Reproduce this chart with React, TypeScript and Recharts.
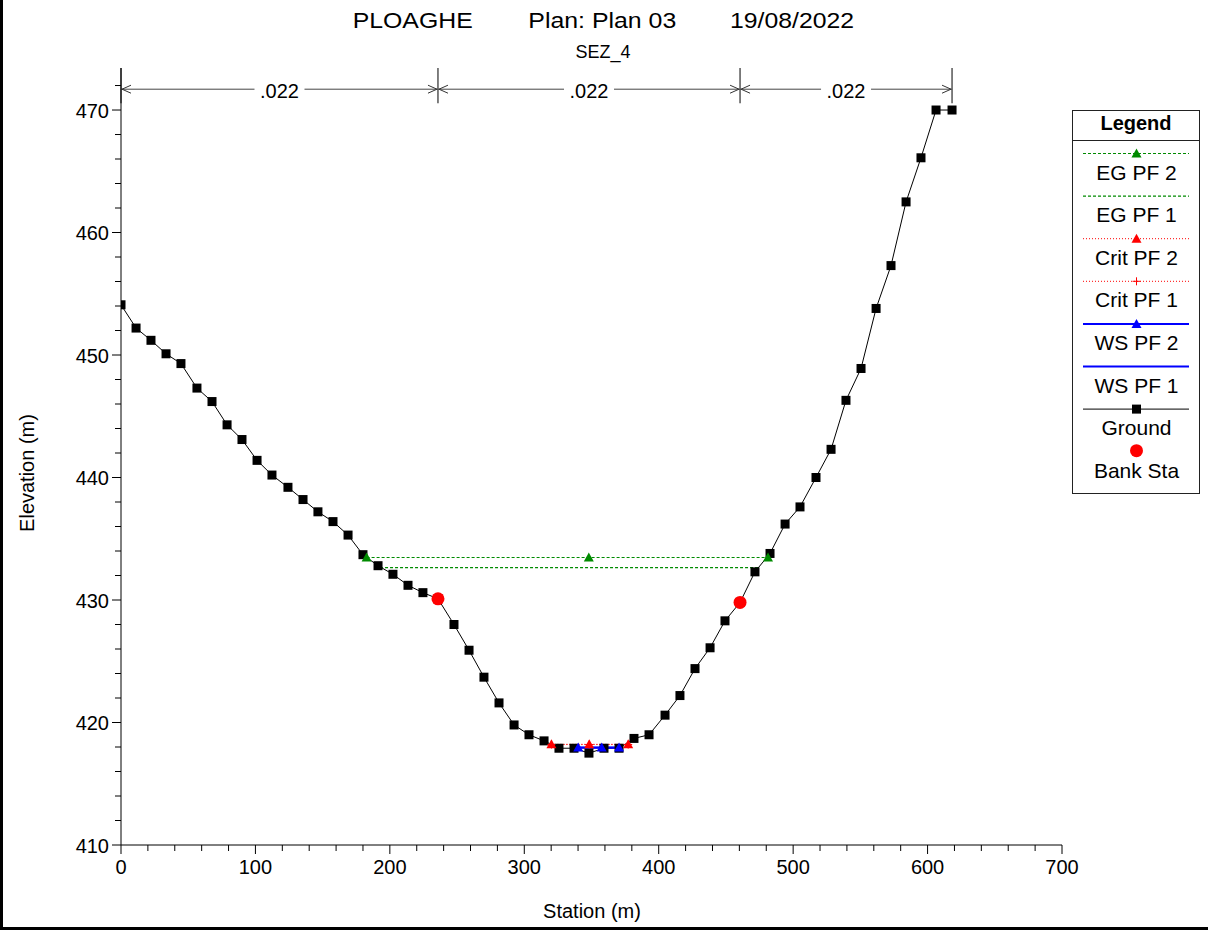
import React from "react";
import {
  ComposedChart,
  Line,
  XAxis,
  YAxis,
  ReferenceLine,
  ReferenceDot,
} from "recharts";

// cross section SEZ_4 - stations (m) and elevations (m)
const groundStation = [
  0, 11.2, 22.3, 33.5, 44.6, 56.5, 67.7, 78.9, 90.0, 101.2, 112.3, 124.2,
  135.4, 146.5, 157.7, 168.9, 180.0, 191.2, 202.3, 213.5, 224.6, 235.8, 247.7,
  258.9, 270.0, 281.2, 292.4, 303.5, 314.7, 325.8, 337.0, 348.1, 359.3, 370.5,
  381.6, 392.8, 404.7, 415.8, 427.0, 438.2, 449.3, 460.5, 471.6, 482.8, 494.0,
  505.1, 517.0, 528.2, 539.3, 550.5, 561.7, 572.8, 584.0, 595.1, 606.3, 618.2,
];
const groundElev = [
  454.1, 452.2, 451.2, 450.1, 449.3, 447.3, 446.2, 444.3, 443.1, 441.4, 440.2,
  439.2, 438.2, 437.2, 436.4, 435.3, 433.7, 432.8, 432.1, 431.2, 430.6, 430.1,
  428.0, 425.9, 423.7, 421.6, 419.8, 419.0, 418.5, 417.9, 417.9, 417.5, 417.9,
  417.9, 418.7, 419.0, 420.6, 422.2, 424.4, 426.1, 428.3, 429.8, 432.3, 433.8,
  436.2, 437.6, 440.0, 442.3, 446.3, 448.9, 453.8, 457.3, 462.5, 466.1, 470.0,
  470.0,
];

const bankStation = [235.8, 460.5];
const bankElev = [430.1, 429.8];

const egPf2Station = [182.7, 348.0, 481.3];
const egPf2Elev = [433.47, 433.47, 433.47];
const egPf1Station = [192.7, 474.2];
const egPf1Elev = [432.65, 432.65];

const critPf2Station = [320.2, 348.3, 377.3];
const critPf2Elev = [418.22, 418.22, 418.22];
const critPf1Station = [320.2, 348.3, 377.3];
const critPf1Elev = [418.2, 418.2, 418.2];

const wsPf2Station = [340.1, 357.6, 370.5];
const wsPf2Elev = [417.96, 417.96, 417.96];
const wsPf1Station = [339.5, 371.0];
const wsPf1Elev = [417.94, 417.94];

// manning's n zones
const nStations = [0, 235.8, 460.5, 618.2];
const nValues = [".022", ".022", ".022"];

const xTicks = Array.from({ length: 36 }, (_, i) => i * 20);
const yTicks = Array.from({ length: 32 }, (_, i) => 410 + i * 2);

const FONT = "'Liberation Sans', Arial, sans-serif";
const GREEN = "#008a00";
const Y_TOP = 473.43;
const N_ARROW_Y = 471.7;
const N_LINE_BOTTOM = 470.55;

const toPoints = (xs: number[], ys: number[]) =>
  xs.map((x, i) => ({ x, y: ys[i] }));

const square = (p: any) =>
  p.cx == null ? (
    <g key={`sq-${p.index}`} />
  ) : (
    <rect
      key={`sq-${p.index}`}
      x={p.cx - 4.5}
      y={p.cy - 4.5}
      width={9}
      height={9}
      fill="#000"
    />
  );

const circle = (p: any) => (
  <circle key={`ci-${p.index}`} cx={p.cx} cy={p.cy} r={6.5} fill="#ff0000" />
);

const triangle = (color: string) => (p: any) =>
  (
    <path
      key={`tr-${color}-${p.index}`}
      d={`M${p.cx},${p.cy - 5} L${p.cx + 5},${p.cy + 4} L${p.cx - 5},${p.cy + 4} Z`}
      fill={color}
    />
  );

const plus = (p: any) => (
  <path
    key={`pl-${p.index}`}
    d={`M${p.cx - 4},${p.cy} H${p.cx + 4} M${p.cx},${p.cy - 4} V${p.cy + 4}`}
    stroke="#ff0000"
    strokeWidth={1}
  />
);

const XTick = (props: any) => {
  const { x, y, payload } = props;
  const v = payload.value;
  const major = v % 100 === 0;
  return (
    <g>
      <line x1={x} x2={x} y1={y} y2={y + (major ? 9 : 6)} stroke="#000" />
      {major && (
        <text
          x={x}
          y={y + 29}
          textAnchor="middle"
          fontSize={20}
          fontFamily={FONT}
          fill="#000"
        >
          {v}
        </text>
      )}
    </g>
  );
};

const YTick = (props: any) => {
  const { x, y, payload } = props;
  const v = payload.value;
  const major = v % 10 === 0;
  return (
    <g>
      <line x1={x - (major ? 9 : 6)} x2={x} y1={y} y2={y} stroke="#000" />
      {major && (
        <text
          x={x - 12}
          y={y + 7.5}
          textAnchor="end"
          fontSize={20}
          fontFamily={FONT}
          fill="#000"
        >
          {v}
        </text>
      )}
    </g>
  );
};

const legendItems = [
  { name: "EG PF 2", color: GREEN, dash: "3 2", marker: "triangle", w: 1.2 },
  { name: "EG PF 1", color: GREEN, dash: "3 2", marker: "none", w: 1.2 },
  { name: "Crit PF 2", color: "#ff0000", dash: "1 2", marker: "triangle", w: 1 },
  { name: "Crit PF 1", color: "#ff0000", dash: "1 2", marker: "plus", w: 1 },
  { name: "WS PF 2", color: "#0000ff", dash: undefined, marker: "triangle", w: 2 },
  { name: "WS PF 1", color: "#0000ff", dash: undefined, marker: "none", w: 2 },
  { name: "Ground", color: "#000", dash: undefined, marker: "square", w: 1 },
  { name: "Bank Sta", color: "#ff0000", dash: undefined, marker: "circle", w: 0 },
];

const Legend = () => (
  <g transform="translate(1072,110)">
    <rect x={0.5} y={0.5} width={127} height={383} fill="#fff" stroke="#222" />
    <text
      x={64}
      y={20}
      textAnchor="middle"
      fontSize={20}
      fontWeight="bold"
      fontFamily={FONT}
    >
      Legend
    </text>
    <line x1={0} x2={128} y1={30.5} y2={30.5} stroke="#222" />
    {legendItems.map((it, i) => {
      const ly = 43.5 + i * 42.6;
      const mx = 64.5;
      return (
        <g key={it.name}>
          {it.w > 0 && (
            <line
              x1={11}
              x2={117}
              y1={ly}
              y2={ly}
              stroke={it.color}
              strokeWidth={it.w}
              strokeDasharray={it.dash}
            />
          )}
          {it.marker === "triangle" && (
            <path
              d={`M${mx},${ly - 5} L${mx + 5},${ly + 4} L${mx - 5},${ly + 4} Z`}
              fill={it.color}
            />
          )}
          {it.marker === "plus" && (
            <path
              d={`M${mx - 4},${ly} H${mx + 4} M${mx},${ly - 4} V${ly + 4}`}
              stroke={it.color}
            />
          )}
          {it.marker === "square" && (
            <rect x={mx - 4.5} y={ly - 4.5} width={9} height={9} fill="#000" />
          )}
          {it.marker === "circle" && (
            <circle cx={mx} cy={ly - 1} r={6.5} fill="#ff0000" />
          )}
          <text
            x={mx}
            y={ly + 26}
            textAnchor="middle"
            fontSize={21}
            fontFamily={FONT}
          >
            {it.name}
          </text>
        </g>
      );
    })}
  </g>
);

const App: React.FC = () => {
  const ground = toPoints(groundStation, groundElev);
  const bank = toPoints(bankStation, bankElev);
  const egPf2 = toPoints(egPf2Station, egPf2Elev);
  const egPf1 = toPoints(egPf1Station, egPf1Elev);
  const critPf2 = toPoints(critPf2Station, critPf2Elev);
  const critPf1 = toPoints(critPf1Station, critPf1Elev);
  const wsPf2 = toPoints(wsPf2Station, wsPf2Elev);
  const wsPf1 = toPoints(wsPf1Station, wsPf1Elev);

  return (
    <div
      style={{
        position: "absolute",
        left: 0,
        top: 0,
        width: 1208,
        height: 930,
        background: "#fff",
        fontFamily: FONT,
      }}
    >
      <ComposedChart
        width={1208}
        height={930}
        margin={{ top: 68, right: 146, bottom: 55, left: 61 }}
      >
        <XAxis
          type="number"
          dataKey="x"
          domain={[0, 700]}
          ticks={xTicks}
          interval={0}
          tickLine={false}
          tickSize={0}
          tickMargin={0}
          tick={<XTick />}
          axisLine={{ stroke: "#000" }}
          height={30}
          allowDataOverflow
        />
        <YAxis
          type="number"
          dataKey="y"
          domain={[410, Y_TOP]}
          ticks={yTicks}
          interval={0}
          tickLine={false}
          tickSize={0}
          tickMargin={0}
          tick={<YTick />}
          axisLine={{ stroke: "#000" }}
          width={60}
          allowDataOverflow
        />

        {/* manning's n brackets */}
        {nStations.map((s) => (
          <ReferenceLine
            key={`nv-${s}`}
            segment={[
              { x: s, y: N_LINE_BOTTOM },
              { x: s, y: Y_TOP },
            ]}
            stroke="#000"
            ifOverflow="visible"
          />
        ))}
        {nValues.map((v, i) => (
          <ReferenceLine
            key={`nh-${i}`}
            segment={[
              { x: nStations[i], y: N_ARROW_Y },
              { x: nStations[i + 1], y: N_ARROW_Y },
            ]}
            stroke="#444"
            ifOverflow="visible"
          />
        ))}
        {nValues.map((v, i) => (
          <ReferenceDot
            key={`nl-${i}`}
            x={nStations[i]}
            y={N_ARROW_Y}
            ifOverflow="visible"
            shape={(p: any) => (
              <path
                d={`M${p.cx + 10},${p.cy - 4} L${p.cx + 1},${p.cy} L${p.cx + 10},${p.cy + 4}`}
                stroke="#333"
                fill="none"
              />
            )}
          />
        ))}
        {nValues.map((v, i) => (
          <ReferenceDot
            key={`nr-${i}`}
            x={nStations[i + 1]}
            y={N_ARROW_Y}
            ifOverflow="visible"
            shape={(p: any) => (
              <path
                d={`M${p.cx - 10},${p.cy - 4} L${p.cx - 1},${p.cy} L${p.cx - 10},${p.cy + 4}`}
                stroke="#333"
                fill="none"
              />
            )}
          />
        ))}
        {nValues.map((v, i) => (
          <ReferenceDot
            key={`nt-${i}`}
            x={(nStations[i] + nStations[i + 1]) / 2}
            y={N_ARROW_Y}
            ifOverflow="visible"
            shape={(p: any) => (
              <g>
                <rect
                  x={p.cx - 25}
                  y={p.cy - 3}
                  width={50}
                  height={6}
                  fill="#fff"
                />
                <text
                  x={p.cx}
                  y={p.cy + 9}
                  textAnchor="middle"
                  fontSize={20}
                  fontFamily={FONT}
                  fill="#000"
                >
                  {v}
                </text>
              </g>
            )}
          />
        ))}

        <Line
          data={ground}
          dataKey="y"
          stroke="#000"
          strokeWidth={1}
          dot={square}
          isAnimationActive={false}
        />
        <Line
          data={bank}
          dataKey="y"
          stroke="none"
          dot={circle}
          isAnimationActive={false}
        />
        <Line
          data={egPf2}
          dataKey="y"
          stroke={GREEN}
          strokeWidth={1.2}
          strokeDasharray="3 2"
          dot={triangle(GREEN)}
          isAnimationActive={false}
        />
        <Line
          data={egPf1}
          dataKey="y"
          stroke={GREEN}
          strokeWidth={1.2}
          strokeDasharray="3 2"
          dot={false}
          isAnimationActive={false}
        />
        <Line
          data={critPf1}
          dataKey="y"
          stroke="#ff0000"
          strokeDasharray="1 2"
          dot={plus}
          isAnimationActive={false}
        />
        <Line
          data={critPf2}
          dataKey="y"
          stroke="#ff0000"
          strokeDasharray="1 2"
          dot={triangle("#ff0000")}
          isAnimationActive={false}
        />
        <Line
          data={wsPf1}
          dataKey="y"
          stroke="#0000ff"
          strokeWidth={2}
          dot={false}
          isAnimationActive={false}
        />
        <Line
          data={wsPf2}
          dataKey="y"
          stroke="#0000ff"
          strokeWidth={2}
          dot={triangle("#0000ff")}
          isAnimationActive={false}
        />
      </ComposedChart>

      <svg
        width={1208}
        height={930}
        style={{ position: "absolute", left: 0, top: 0, pointerEvents: "none" }}
      >
        <text x={352.7} y={28} fontSize={22} fontFamily={FONT} textLength={120} lengthAdjust="spacingAndGlyphs">
          PLOAGHE
        </text>
        <text x={528.3} y={28} fontSize={22} fontFamily={FONT} textLength={148} lengthAdjust="spacingAndGlyphs">
          Plan: Plan 03
        </text>
        <text x={730} y={28} fontSize={22} fontFamily={FONT} textLength={124} lengthAdjust="spacingAndGlyphs">
          19/08/2022
        </text>
        <text x={603} y={58} textAnchor="middle" fontSize={18} fontFamily={FONT}>
          SEZ_4
        </text>
        <text
          x={592}
          y={918}
          textAnchor="middle"
          fontSize={20}
          fontFamily={FONT}
        >
          Station (m)
        </text>
        <text
          transform="translate(34,473) rotate(-90)"
          textAnchor="middle"
          fontSize={20}
          fontFamily={FONT}
        >
          Elevation (m)
        </text>
        <Legend />
        <line x1={1.5} x2={1.5} y1={0} y2={930} stroke="#000" strokeWidth={3} />
        <line x1={0} x2={1208} y1={928.5} y2={928.5} stroke="#000" strokeWidth={3} />
      </svg>
    </div>
  );
};

export default App;
